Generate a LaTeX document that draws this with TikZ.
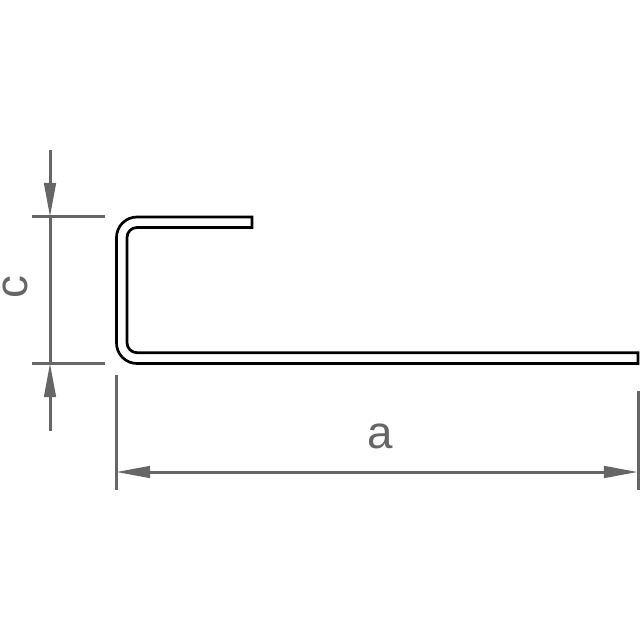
\documentclass[tikz,border=0pt]{standalone}
\usepackage{fontspec}
\setmainfont{Liberation Sans}
\usetikzlibrary{arrows.meta}
\definecolor{dimgray}{HTML}{666666}
\tikzset{
  dimline/.style={draw=dimgray,line width=0.03cm},
  dimarrow/.style={dimline,-{Triangle[length=0.34cm,width=0.115cm]}},
  profile/.style={draw=black,line width=0.027cm,line join=miter},
  dimlabel/.style={text=dimgray,font=\fontsize{13}{14}\selectfont,inner sep=0pt}
}
\begin{document}
\begin{tikzpicture}[x=0.01cm,y=-0.01cm]
\useasboundingbox (0,0) rectangle (640,640);
% profile
\draw[profile] (252,217) -- (137,217) arc[start angle=90,end angle=180,x radius=20.5,y radius=-20.5] -- (116.5,343)
  arc[start angle=180,end angle=270,x radius=20.5,y radius=-20.5] -- (638,363.5) -- (638,352.7) -- (137,352.7)
  arc[start angle=270,end angle=180,x radius=10,y radius=-10] -- (127,237.5)
  arc[start angle=180,end angle=90,x radius=10,y radius=-10] -- (252,227.5) -- cycle;
% named points
\coordinate (ctop) at (50,150);
\coordinate (ctip) at (50,217);
\coordinate (cbot) at (50,431);
\coordinate (cbtip) at (50,363);
\coordinate (e1a) at (32,217);
\coordinate (e1b) at (105,217);
\coordinate (e2a) at (32,363);
\coordinate (e2b) at (105,363);
\coordinate (e3a) at (116,375);
\coordinate (e3b) at (116,490);
\coordinate (e4a) at (638,391);
\coordinate (e4b) at (638,490);
\coordinate (al) at (116,472);
\coordinate (ar) at (638,472);
\coordinate (amid) at (377,472);
% extension lines
\draw[dimline] (e1a) -- (e1b);
\draw[dimline] (e2a) -- (e2b);
\draw[dimline] (e3a) -- (e3b);
\draw[dimline] (e4a) -- (e4b);
% dimension c
\draw[dimline] (ctip) -- (cbtip);
\draw[dimarrow] (ctop) -- (ctip);
\draw[dimarrow] (cbot) -- (cbtip);
% dimension a
\draw[dimarrow] (amid) -- (al);
\draw[dimarrow] (amid) -- (ar);
% labels
\node[dimlabel,rotate=90] (labc) at (15,287) {c};
\node[dimlabel] (laba) at (380,436) {a};
\end{tikzpicture}
\end{document}
